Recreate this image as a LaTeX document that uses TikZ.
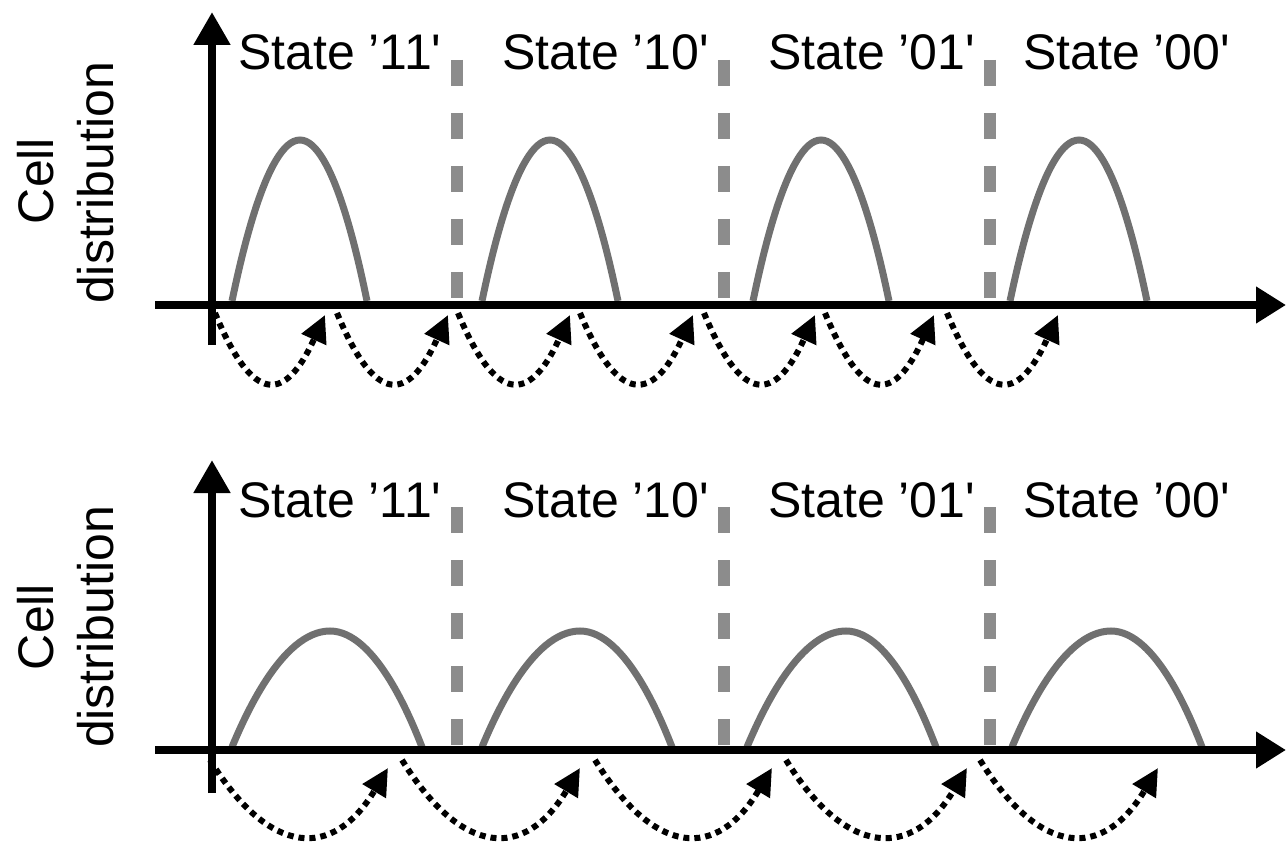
\documentclass[tikz,border=0pt]{standalone}
\usepackage{fontspec}
\setmainfont{Liberation Sans}[Ligatures=TeXOff]
\usetikzlibrary{arrows.meta,calc}
\definecolor{curvegray}{HTML}{707070}
\definecolor{dashgray}{HTML}{8C8C8C}
\tikzset{
  axisline/.style={line width=8pt},
  yaxistip/.style={-{Triangle[length=33pt,width=35pt]}},
  xaxistip/.style={-{Triangle[length=30pt,width=35pt]}},
  bellcurve/.style={draw=curvegray,line width=7pt},
  divider/.style={draw=dashgray,line width=12.5pt,dash pattern=on 26pt off 27pt},
  hop/.style={line width=6pt,dash pattern=on 6pt off 5pt,-{Triangle[length=27pt,width=26pt]}},
  statelabel/.style={anchor=base west,inner sep=0pt,font=\fontsize{50}{60}\selectfont},
  ylabel/.style={anchor=base,inner sep=0pt,rotate=90,font=\fontsize{50}{60}\selectfont}
}
\begin{document}
\begin{tikzpicture}[x=1pt,y=-1pt]
\useasboundingbox (0,0) rectangle (1286,845);

% ================= TOP PANEL =================
\coordinate (yt0) at (212,345);
\coordinate (yt1) at (212,12);
\coordinate (xt0) at (155,305);
\coordinate (xt1) at (1286,305);

% dividers
\foreach \x/\n in {457/a,724/b,990/c}{
  \coordinate (dt\n0) at (\x,60);
  \coordinate (dt\n1) at (\x,299);
  \draw[divider] (dt\n0) -- (dt\n1);
}

% bell curves
\foreach \l/\m/\r in {232/300/367,482/550/618,753/821/889,1010/1079/1147}{
  \draw[bellcurve] (\l,301) parabola bend (\m,140) (\r,301);
}

\draw[axisline,yaxistip] (yt0) -- (yt1);
\draw[axisline,xaxistip] (xt0) -- (xt1);

\node[statelabel] (t11) at (238,70) {State ’11'};
\node[statelabel] (t10) at (502,70) {State ’10'};
\node[statelabel] (t01) at (768,70) {State ’01'};
\node[statelabel] (t00) at (1023,70) {State ’00'};

\node[ylabel] (tcell) at (53,181) {Cell};
\node[ylabel] (tdist) at (113,183) {distribution};

% hops
\foreach \s/\t [count=\i] in {215/325,337/448,458/570,580/693,704/815,825/934,947/1058}{
  \coordinate (ths\i) at (\s,313);
  \coordinate (tht\i) at (\t,315);
  \draw[hop] (ths\i) .. controls ($(ths\i)+(38,92)$) and ($(tht\i)+(-40,88)$) .. (tht\i);
}

% ================= BOTTOM PANEL =================
\coordinate (yb0) at (212,793);
\coordinate (yb1) at (212,460);
\coordinate (xb0) at (155,750);
\coordinate (xb1) at (1286,750);

\foreach \x/\n in {457/a,724/b,990/c}{
  \coordinate (db\n0) at (\x,507);
  \coordinate (db\n1) at (\x,746);
  \draw[divider] (db\n0) -- (db\n1);
}

\foreach \l/\m/\r in {232/330/422,482/580/672,747/846/936,1012/1111/1202}{
  \draw[bellcurve] (\l,747) parabola bend (\m,631) (\r,747);
}

\draw[axisline,yaxistip] (yb0) -- (yb1);
\draw[axisline,xaxistip] (xb0) -- (xb1);

\node[statelabel] (b11) at (238,517) {State ’11'};
\node[statelabel] (b10) at (502,517) {State ’10'};
\node[statelabel] (b01) at (768,517) {State ’01'};
\node[statelabel] (b00) at (1023,517) {State ’00'};

\node[ylabel] (bcell) at (53,627) {Cell};
\node[ylabel] (bdist) at (113,627) {distribution};

\foreach \s/\t [count=\i] in {210/388,402/580,595/772,786/967,980/1158}{
  \coordinate (bhs\i) at (\s,760);
  \coordinate (bht\i) at (\t,768);
  \draw[hop] (bhs\i) .. controls ($(bhs\i)+(60,97)$) and ($(bht\i)+(-55,92)$) .. (bht\i);
}
\end{tikzpicture}
\end{document}
